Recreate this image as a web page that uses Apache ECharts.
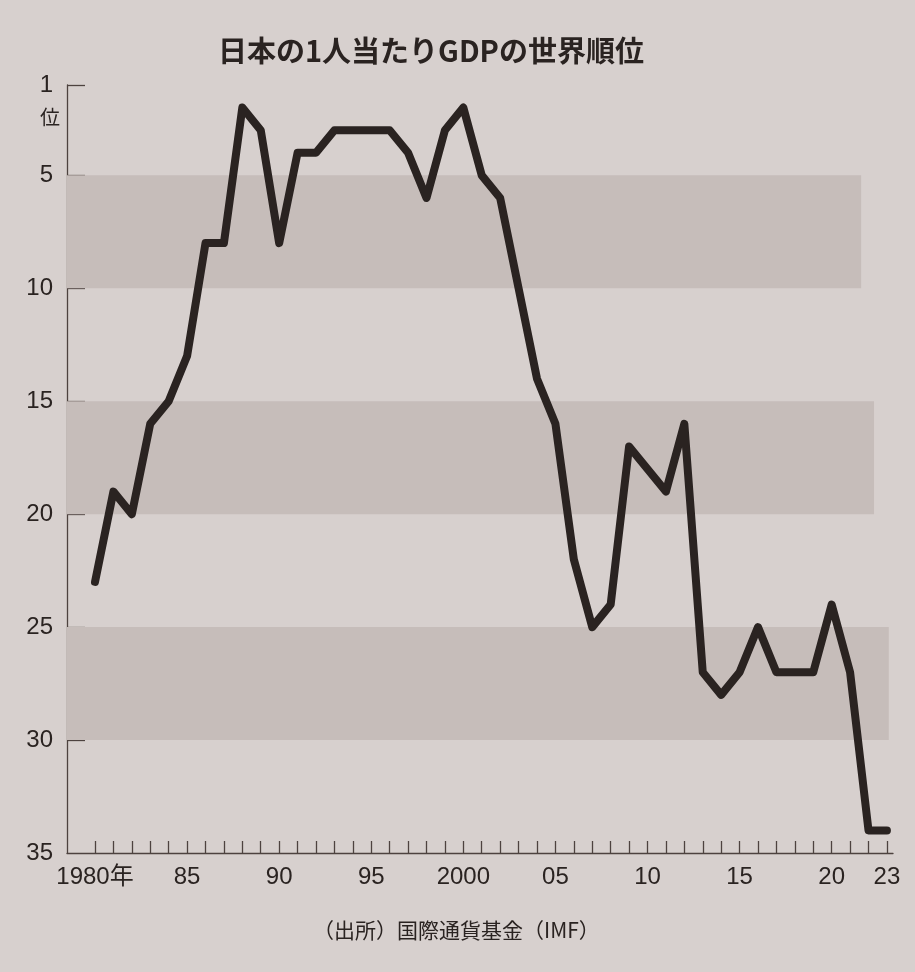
<!DOCTYPE html>
<html>
<head>
<meta charset="utf-8">
<script src="https://cdn.jsdelivr.net/npm/echarts@6/dist/echarts.min.js"></script>
<style>
html,body{margin:0;padding:0;background:#d7d0ce;}
#chart{width:915px;height:972px;}
</style>
</head>
<body>
<div id="chart"></div>
<script>
// ---- data ----
const years = [1980,1981,1982,1983,1984,1985,1986,1987,1988,1989,
               1990,1991,1992,1993,1994,1995,1996,1997,1998,1999,
               2000,2001,2002,2003,2004,2005,2006,2007,2008,2009,
               2010,2011,2012,2013,2014,2015,2016,2017,2018,2019,
               2020,2021,2022,2023];
const ranks = [23,19,20,16,15,13,8,8,2,3,
               8,4,4,3,3,3,3,4,6,3,
               2,5,6,10,14,16,22,25,24,17,
               18,19,16,27,28,27,25,27,27,27,
               24,27,34,34];
const yTickValues = [1,5,10,15,20,25,30,35];
const xLabelYears = [1980,1985,1990,1995,2000,2005,2010,2015,2020,2023];
const bandRanges = [[5,10],[15,20],[25,30]];
const titleText = '日本の1人当たりGDPの世界順位';
const unitText = '位';
const sourceText = '（出所）国際通貨基金（IMF）';

// ---- chart ----
const inkColor = '#2a2321';
const axisColor = '#4d423f';
const bandColor = '#c6bdba';
const numFont = '"Liberation Sans","Noto Sans CJK JP",sans-serif';
const cjkFont = '"Noto Sans CJK JP","Noto Sans",sans-serif';

const xMin = 1978.48, xMax = 2023.33;
const bandRight = [2021.6, 2022.3, 2023.1];

const chart = echarts.init(document.getElementById('chart'), null, {renderer: 'canvas'});
chart.setOption({
  backgroundColor: '#d7d0ce',
  animation: false,
  textStyle: {fontFamily: cjkFont},
  title: [
    {text: titleText, left: 213, top: 31,
     textStyle: {fontSize: 29, fontWeight: 'bold', color: inkColor, fontFamily: cjkFont}},
    {text: unitText, left: 35, top: 102,
     textStyle: {fontSize: 20, fontWeight: 'normal', color: inkColor, fontFamily: cjkFont}},
    {text: sourceText, left: 308, top: 915,
     textStyle: {fontSize: 21, fontWeight: 'normal', color: inkColor, fontFamily: cjkFont}}
  ],
  grid: {left: 67, top: 85, right: 22, bottom: 119, containLabel: false},
  xAxis: {
    type: 'value', min: xMin, max: xMax,
    axisLine: {show: true, lineStyle: {color: axisColor, width: 1.3}},
    axisTick: {show: true, inside: true, length: 12, customValues: years,
               lineStyle: {color: axisColor, width: 1.3}},
    axisLabel: {
      show: true, customValues: xLabelYears, margin: 12,
      color: inkColor, fontSize: 24, fontFamily: numFont,
      formatter: function (v) {
        if (v === 1980) return '1980年';
        if (v === 2000) return '2000';
        const s = String(v % 100);
        return s.length < 2 ? '0' + s : s;
      }
    },
    splitLine: {show: false}
  },
  yAxis: {
    type: 'value', inverse: true, min: 1, max: 35,
    axisLine: {show: true, lineStyle: {color: axisColor, width: 1.3}},
    axisTick: {show: true, inside: true, length: 18, customValues: yTickValues.slice(0, -1),
               lineStyle: {color: axisColor, width: 1.3}},
    axisLabel: {show: true, customValues: yTickValues, margin: 14,
                color: inkColor, fontSize: 24, fontFamily: numFont},
    splitLine: {show: false}
  },
  series: [
    {
      type: 'line', data: [], z: 1, silent: true,
      markArea: {
        silent: true,
        itemStyle: {color: bandColor},
        data: bandRanges.map((r, i) => [{xAxis: xMin, yAxis: r[0]}, {xAxis: bandRight[i], yAxis: r[1]}])
      }
    },
    {
      type: 'line', z: 5,
      data: years.map((y, i) => [y, ranks[i]]),
      symbol: 'none',
      lineStyle: {color: inkColor, width: 8, join: 'round', cap: 'round'}
    }
  ]
});
</script>
</body>
</html>
